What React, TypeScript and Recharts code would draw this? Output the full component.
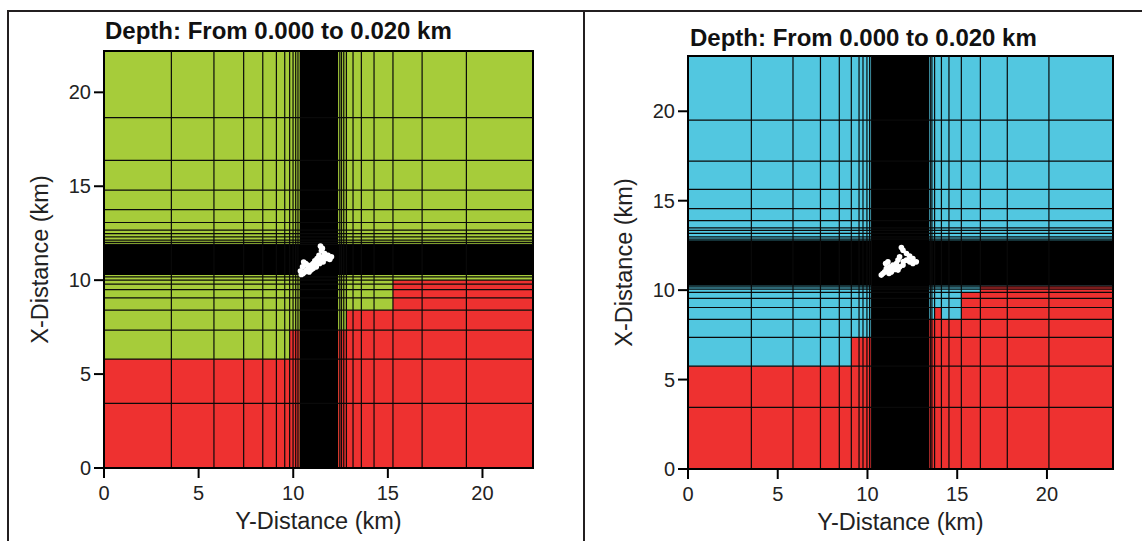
import React from "react";
import {
  ScatterChart,
  Scatter,
  XAxis,
  YAxis,
  ReferenceArea,
  ReferenceLine,
} from "recharts";

// ---- data (km) ----
const ticks = [0, 5, 10, 15, 20];

const leftDomainX = [0, 22.67];
const leftDomainY = [0, 22.2];
const leftXLines = [3.56, 5.81, 7.38, 8.39, 9.11, 9.55, 9.81, 9.99, 10.13, 10.25, 12.46, 12.55, 12.67, 12.81, 13.16, 13.6, 14.27, 15.27, 16.81, 19.15];
const leftYLines = [3.44, 5.8, 7.34, 8.4, 9.06, 9.5, 9.79, 10.0, 10.18, 11.91, 12.01, 12.13, 12.3, 12.48, 12.66, 13.07, 13.76, 14.79, 16.38, 18.65];
// [x1, x2, y1, y2]
const leftRed = [
  [0, 10.34, 0, 5.8],
  [9.81, 10.34, 5.8, 7.34],
  [12.37, 22.67, 0, 7.34],
  [12.81, 22.67, 7.34, 8.4],
  [15.27, 22.67, 8.4, 10.0],
];
const leftBandX = [10.34, 12.37];
const leftBandY = [10.27, 11.88];
const leftQuakes = [
  { x: 11.44, y: 11.81 }, { x: 11.54, y: 11.69 }, { x: 11.49, y: 11.56 }, { x: 11.66, y: 11.42 },
  { x: 11.84, y: 11.33 }, { x: 12.02, y: 11.24 }, { x: 11.93, y: 11.1 }, { x: 11.75, y: 11.15 },
  { x: 11.58, y: 11.24 }, { x: 11.36, y: 11.33 }, { x: 11.26, y: 11.15 }, { x: 11.14, y: 11.03 },
  { x: 11.05, y: 10.89 }, { x: 10.96, y: 10.8 }, { x: 10.87, y: 10.71 }, { x: 10.78, y: 10.62 },
  { x: 10.7, y: 10.53 }, { x: 10.61, y: 10.44 }, { x: 10.52, y: 10.36 }, { x: 10.43, y: 10.3 },
  { x: 10.66, y: 10.89 }, { x: 10.55, y: 10.97 }, { x: 10.84, y: 10.44 }, { x: 11.05, y: 10.62 },
  { x: 11.22, y: 10.71 }, { x: 11.4, y: 10.89 }, { x: 11.58, y: 10.97 }, { x: 10.38, y: 10.49 },
  { x: 10.49, y: 10.71 }, { x: 11.3, y: 11.0 }, { x: 10.95, y: 10.55 }, { x: 11.15, y: 10.8 },
  { x: 11.5, y: 11.1 }, { x: 10.75, y: 10.8 },
];

const rightDomainX = [0, 23.68];
const rightDomainY = [0, 23.09];
const rightXLines = [3.53, 5.85, 7.38, 8.43, 9.1, 9.53, 9.75, 9.97, 10.12, 10.22, 13.5, 13.59, 13.74, 14.12, 14.54, 15.23, 16.29, 17.79, 20.11];
const rightYLines = [3.45, 5.75, 7.36, 8.36, 9.03, 9.54, 9.87, 10.06, 10.18, 12.85, 12.98, 13.17, 13.34, 13.48, 13.89, 14.56, 15.63, 17.21, 19.5];
const rightRed = [
  [0, 10.25, 0, 5.75],
  [9.1, 10.25, 5.75, 7.36],
  [13.43, 23.68, 0, 8.36],
  [13.74, 14.12, 8.36, 9.03],
  [15.23, 23.68, 8.36, 9.87],
  [16.29, 23.68, 9.87, 10.25],
];
const rightBandX = [10.25, 13.43];
const rightBandY = [10.25, 12.79];
const rightQuakes = [
  { x: 11.89, y: 12.38 }, { x: 11.98, y: 12.23 }, { x: 12.17, y: 12.05 }, { x: 12.35, y: 11.9 },
  { x: 12.53, y: 11.77 }, { x: 12.72, y: 11.58 }, { x: 12.53, y: 11.49 }, { x: 12.35, y: 11.58 },
  { x: 12.17, y: 11.68 }, { x: 11.79, y: 11.86 }, { x: 11.7, y: 11.68 }, { x: 11.61, y: 11.49 },
  { x: 11.42, y: 11.4 }, { x: 11.24, y: 11.3 }, { x: 11.05, y: 11.21 }, { x: 10.96, y: 11.02 },
  { x: 10.86, y: 10.93 }, { x: 10.77, y: 10.84 }, { x: 11.14, y: 11.58 }, { x: 11.01, y: 11.49 },
  { x: 11.33, y: 11.02 }, { x: 11.52, y: 11.16 }, { x: 11.79, y: 11.3 }, { x: 11.98, y: 11.4 },
  { x: 11.7, y: 11.12 }, { x: 11.2, y: 10.93 }, { x: 11.6, y: 11.3 }, { x: 11.4, y: 11.2 },
  { x: 12.0, y: 11.6 }, { x: 11.15, y: 11.1 },
];

const GREEN = "#a6cc3a";
const CYAN = "#52c7e0";
const RED = "#ee3130";
const FONT = "Arial, 'Liberation Sans', sans-serif";

const dot = (p: any) => <circle cx={p.cx} cy={p.cy} r={2.8} fill="#fff" />;

function Panel({ left, top, plotW, plotH, domX, domY, xLines, yLines, red, bandX, bandY, quakes, base }: any) {
  const axisH = 61;
  const marginBottom = 541 - top - plotH - axisH;
  return (
    <div style={{ position: "absolute", left, top: 0 }}>
      <ScatterChart
        width={104 + plotW + 10}
        height={541}
        margin={{ top, right: 10, bottom: marginBottom, left: 0 }}
      >
        <XAxis
          type="number"
          dataKey="x"
          domain={domX}
          ticks={ticks}
          allowDataOverflow
          height={axisH}
          tickSize={10}
          tickMargin={8}
          tickLine={{ stroke: "#000", strokeWidth: 2 }}
          axisLine={{ stroke: "#000", strokeWidth: 2 }}
          tick={{ fill: "#222", fontSize: 20, fontFamily: FONT }}
          label={{ value: "Y-Distance (km)", position: "insideBottom", offset: 0, fill: "#222", fontSize: 23.5, fontFamily: FONT }}
        />
        <YAxis
          type="number"
          dataKey="y"
          domain={domY}
          ticks={ticks}
          allowDataOverflow
          width={104}
          tickSize={10}
          tickMargin={3}
          tickLine={{ stroke: "#000", strokeWidth: 2 }}
          axisLine={{ stroke: "#000", strokeWidth: 2 }}
          tick={{ fill: "#222", fontSize: 20, fontFamily: FONT }}
          label={{ value: "X-Distance (km)", angle: -90, position: "insideLeft", offset: 40, fill: "#222", fontSize: 23.5, fontFamily: FONT, style: { textAnchor: "middle" } }}
        />
        <ReferenceArea x1={domX[0]} x2={domX[1]} y1={domY[0]} y2={domY[1]} fill={base} fillOpacity={1} stroke="none" />
        {red.map((r: number[], i: number) => (
          <ReferenceArea key={"r" + i} x1={r[0]} x2={r[1]} y1={r[2]} y2={r[3]} fill={RED} fillOpacity={1} stroke="none" />
        ))}
        {xLines.map((v: number) => (
          <ReferenceLine key={"x" + v} x={v} stroke="#0a0a0a" strokeWidth={1.2} />
        ))}
        {yLines.map((v: number) => (
          <ReferenceLine key={"y" + v} y={v} stroke="#0a0a0a" strokeWidth={1.2} />
        ))}
        <ReferenceArea x1={bandX[0]} x2={bandX[1]} y1={domY[0]} y2={domY[1]} fill="#000" fillOpacity={1} stroke="none" />
        <ReferenceArea x1={domX[0]} x2={domX[1]} y1={bandY[0]} y2={bandY[1]} fill="#000" fillOpacity={1} stroke="none" />
        <ReferenceArea x1={domX[0]} x2={domX[1]} y1={domY[0]} y2={domY[1]} fill="none" stroke="#000" strokeWidth={2} />
        <Scatter data={quakes} shape={dot} isAnimationActive={false} />
      </ScatterChart>
    </div>
  );
}

export default function App() {
  const titleStyle: React.CSSProperties = {
    position: "absolute",
    fontFamily: FONT,
    fontWeight: "bold",
    fontSize: 24,
    lineHeight: "24px",
    color: "#111",
    whiteSpace: "nowrap",
  };
  return (
    <div style={{ position: "absolute", left: 0, top: 0, width: 1142, height: 541, background: "#fff", overflow: "hidden" }}>
      <div style={{ position: "absolute", left: 7, top: 10, width: 1135, height: 2, background: "#231f20" }} />
      <div style={{ position: "absolute", left: 7, top: 10, width: 2, height: 531, background: "#231f20" }} />
      <div style={{ position: "absolute", left: 583, top: 10, width: 2, height: 531, background: "#231f20" }} />
      <Panel left={0} top={51} plotW={429} plotH={417} domX={leftDomainX} domY={leftDomainY}
        xLines={leftXLines} yLines={leftYLines} red={leftRed} bandX={leftBandX} bandY={leftBandY}
        quakes={leftQuakes} base={GREEN} />
      <Panel left={584} top={56} plotW={425} plotH={413} domX={rightDomainX} domY={rightDomainY}
        xLines={rightXLines} yLines={rightYLines} red={rightRed} bandX={rightBandX} bandY={rightBandY}
        quakes={rightQuakes} base={CYAN} />
      <div style={{ ...titleStyle, left: 105, top: 19 }}>Depth: From 0.000 to 0.020 km</div>
      <div style={{ ...titleStyle, left: 690, top: 26 }}>Depth: From 0.000 to 0.020 km</div>
    </div>
  );
}
